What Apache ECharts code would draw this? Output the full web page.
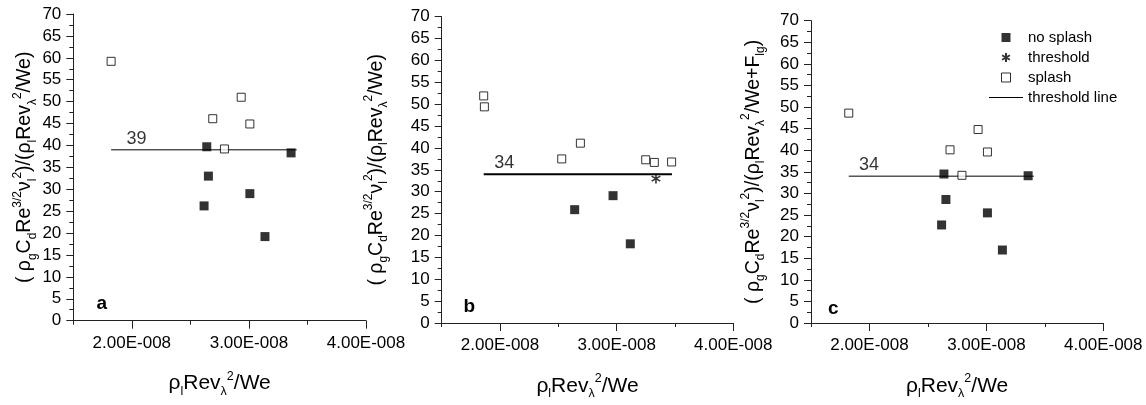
<!DOCTYPE html>
<html>
<head>
<meta charset="utf-8">
<script src="https://cdn.jsdelivr.net/npm/echarts@6/dist/echarts.min.js"></script>
<style>html,body{margin:0;padding:0;background:#fff}#c{width:1146px;height:405px}</style>
</head>
<body>
<div id="c"></div>
<script>
// x values in units of 1E-008
const X_UNIT = 1e-8;
const xTickLabels = [2, 3, 4];
const xMinorTicks = [1.5, 2.5, 3.5];
const yMin = 0, yMax = 70, yStep = 5;

const aNoSplashX = [2.640, 2.654, 2.617, 3.008, 3.137, 3.360];
const aNoSplashY = [39.7, 33.0, 26.2, 29.0, 19.2, 38.3];
const aSplashX = [1.823, 2.691, 2.934, 3.008, 2.791];
const aSplashY = [59.2, 46.1, 51.0, 44.9, 39.2];
const aThreshold = 39;
const aLineX = [1.823, 3.408];
const aLabelX = 2.04;

const bNoSplashX = [2.640, 2.969, 3.117];
const bNoSplashY = [25.9, 29.1, 18.1];
const bSplashX = [1.860, 1.866, 2.529, 2.689, 3.249, 3.323, 3.471];
const bSplashY = [51.9, 49.4, 37.5, 41.1, 37.3, 36.7, 36.8];
const bThresholdX = [3.337];
const bThresholdY = [33.0];
const bThreshold = 34;
const bLineX = [1.860, 3.474];
const bLabelX = 2.036;

const cNoSplashX = [2.637, 2.654, 2.617, 3.009, 3.137, 3.357];
const cNoSplashY = [34.5, 28.6, 22.7, 25.5, 16.9, 34.1];
const cSplashX = [1.823, 2.689, 2.929, 3.009, 2.791];
const cSplashY = [48.6, 40.1, 44.8, 39.6, 34.2];
const cThreshold = 34;
const cLineX = [1.823, 3.406];
const cLabelX = 1.996;

const panelLetters = ['a', 'b', 'c'];
const legendNames = ['no splash', 'threshold', 'splash', 'threshold line'];

const FONT = 'Liberation Sans, Arial, sans-serif';
const pts = (xs, ys) => xs.map((x, i) => [x * X_UNIT, ys[i]]);

function rich(main, small, lh) {
  return {
    n: {fontSize: main, fontFamily: FONT, color: '#000', lineHeight: lh, verticalAlign: 'middle'},
    sub: {fontSize: small, fontFamily: FONT, color: '#000', lineHeight: small, verticalAlign: 'bottom'},
    sup: {fontSize: small, fontFamily: FONT, color: '#000', lineHeight: small, verticalAlign: 'top'}
  };
}
const yRich = rich(19.5, 12, 27);
const xRich = rich(21, 12.5, 28);
const yNameAB = '{n|( ρ}{sub|g}{n|C}{sub|d}{n|Re}{sup|3/2}{n|ν}{sub|l}{sup|2}{n|)/(ρ}{sub|l}{n|Rev}{sub|λ}{sup|2}{n|/We)}';
const yNameC = '{n|( ρ}{sub|g}{n|C}{sub|d}{n|Re}{sup|3/2}{n|ν}{sub|l}{sup|2}{n|)/(ρ}{sub|l}{n|Rev}{sub|λ}{sup|2}{n|/We+F}{sub|lg}{n|)}';
const xName = '{n|ρ}{sub|l}{n|Rev}{sub|λ}{sup|2}{n|/We}';

const grids = [
  {left: 73.3, top: 14, width: 292.7, height: 306.7},
  {left: 441.7, top: 16.7, width: 291.6, height: 307.3},
  {left: 811, top: 20.7, width: 292.3, height: 306.6}
];
const yNameGaps = [32, 52, 44];

const xAxes = [], yAxes = [];
grids.forEach((g, i) => {
  xAxes.push({
    type: 'value', gridIndex: i, position: 'bottom',
    min: 1.5 * X_UNIT, max: 4 * X_UNIT,
    splitLine: {show: false},
    axisLine: {lineStyle: {color: '#222', width: 1}},
    axisTick: {customValues: xTickLabels.map(v => v * X_UNIT), length: 8, lineStyle: {color: '#222'}},
    axisLabel: {customValues: xTickLabels.map(v => v * X_UNIT), margin: 14, fontSize: 17, fontFamily: FONT, color: '#000',
      formatter: v => (v / X_UNIT).toFixed(2) + 'E-008'},
    name: xName, nameLocation: 'middle', nameGap: 49,
    nameTextStyle: {rich: xRich}
  });
  xAxes.push({
    type: 'value', gridIndex: i, position: 'bottom',
    min: 1.5 * X_UNIT, max: 4 * X_UNIT,
    splitLine: {show: false},
    axisLine: {show: false},
    axisTick: {customValues: xMinorTicks.map(v => v * X_UNIT), length: 4, lineStyle: {color: '#222'}},
    axisLabel: {show: false}
  });
  yAxes.push({
    type: 'value', gridIndex: i, min: yMin, max: yMax, interval: yStep,
    splitLine: {show: false},
    axisLine: {show: true, lineStyle: {color: '#222', width: 1}},
    axisTick: {show: true, length: 7, lineStyle: {color: '#222'}},
    minorTick: {show: true, splitNumber: 2, length: 4, lineStyle: {color: '#222'}},
    axisLabel: {margin: 12, fontSize: 17, fontFamily: FONT, color: '#000'},
    name: i === 2 ? yNameC : yNameAB, nameLocation: 'middle', nameRotate: 90, nameGap: yNameGaps[i],
    nameTextStyle: {rich: yRich}
  });
});

const squarePath = 'path://M0,0L10,0L10,10L0,10Z';
const starPath = 'path://M5,0L5,10M0.67,2.5L9.33,7.5M0.67,7.5L9.33,2.5';
const noSplashStyle = {symbol: squarePath, symbolSize: 9, symbolKeepAspect: true, itemStyle: {color: '#000'}};
const splashStyle = {symbol: squarePath, symbolSize: 8, symbolKeepAspect: true, itemStyle: {color: '#fff', borderColor: '#000', borderWidth: 1}};

const panels = [
  {ns: pts(aNoSplashX, aNoSplashY), sp: pts(aSplashX, aSplashY), th: null, t: aThreshold, lx: aLineX, labx: aLabelX, lw: 1},
  {ns: pts(bNoSplashX, bNoSplashY), sp: pts(bSplashX, bSplashY), th: pts(bThresholdX, bThresholdY), t: bThreshold, lx: bLineX, labx: bLabelX, lw: 2},
  {ns: pts(cNoSplashX, cNoSplashY), sp: pts(cSplashX, cSplashY), th: null, t: cThreshold, lx: cLineX, labx: cLabelX, lw: 1}
];

const series = [];
panels.forEach((p, i) => {
  series.push({
    name: 'threshold line', type: 'line', xAxisIndex: 2 * i, yAxisIndex: i, z: 1,
    symbol: 'none', silent: true, animation: false,
    lineStyle: {color: '#000', width: p.lw},
    itemStyle: {color: '#000'},
    data: p.lx.map(x => [x * X_UNIT, p.t])
  });
  series.push(Object.assign({name: 'no splash', type: 'scatter', xAxisIndex: 2 * i, yAxisIndex: i, z: 3, animation: false, data: p.ns}, noSplashStyle));
  series.push(Object.assign({name: 'splash', type: 'scatter', xAxisIndex: 2 * i, yAxisIndex: i, z: 3, animation: false, data: p.sp}, splashStyle));
  if (p.th) {
    series.push({name: 'threshold', type: 'scatter', xAxisIndex: 2 * i, yAxisIndex: i, z: 4, animation: false,
      symbol: starPath, symbolSize: 10, symbolKeepAspect: true,
      itemStyle: {color: 'rgba(0,0,0,0)', borderColor: '#000', borderWidth: 1.6},
      data: p.th});
  }
  series.push({
    name: 'label' + i, type: 'scatter', xAxisIndex: 2 * i, yAxisIndex: i, z: 2, animation: false,
    symbolSize: 0, silent: true,
    label: {show: true, position: 'top', distance: 2, formatter: String(p.t), fontSize: 18, fontFamily: FONT, color: '#000'},
    data: [[p.labx * X_UNIT, p.t]]
  });
});

const letterPos = [[101.7, 303.3], [469.3, 306.7], [833.3, 308.3]];
const chart = echarts.init(document.getElementById('c'), null, {renderer: 'canvas'});
chart.setOption({
  backgroundColor: '#fff',
  animation: false,
  grid: grids,
  xAxis: xAxes,
  yAxis: yAxes,
  legend: {
    data: legendNames.map(n => n === 'threshold line'
      ? {name: n, icon: 'path://M0,0L34,0L34,1L0,1Z'}
      : (n === 'splash' ? {name: n, itemStyle: {borderWidth: 1}} : {name: n})),
    orient: 'vertical', left: 989, top: 30, padding: 0,
    itemWidth: 34, itemHeight: 9, itemGap: 5, selectedMode: false, symbolKeepAspect: true,
    textStyle: {fontSize: 15, fontFamily: FONT, color: '#000'}
  },
  graphic: panelLetters.map((t, i) => ({
    type: 'text', x: letterPos[i][0], y: letterPos[i][1],
    style: {text: t, fontSize: 19, fontWeight: 'bold', fontFamily: FONT, fill: '#000', align: 'center', verticalAlign: 'middle'}
  })),
  series: series
});
</script>
</body>
</html>
